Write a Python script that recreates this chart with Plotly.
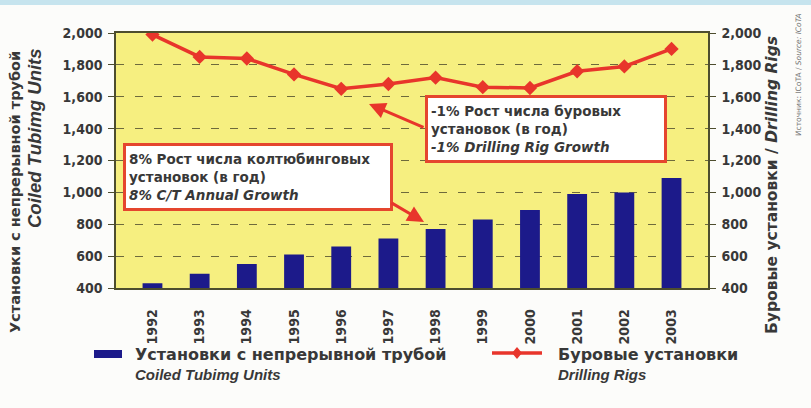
import plotly.graph_objects as go

# Data
years = ["1992", "1993", "1994", "1995", "1996", "1997",
         "1998", "1999", "2000", "2001", "2002", "2003"]
ct_units = [430, 490, 550, 610, 660, 710, 770, 830, 890, 990, 1000, 1090]
drilling_rigs = [1990, 1850, 1840, 1740, 1650, 1680, 1720, 1660, 1655, 1760, 1790, 1900]
tick_vals = [400, 600, 800, 1000, 1200, 1400, 1600, 1800, 2000]

W, H = 811, 408
L, R, T, B = 116, 103, 33, 120
PW, PH = W - L - R, H - T - B

def px(x):
    return (x - L) / PW

def py(y):
    return (H - B - y) / PH

NAVY = "#1c1a8a"
RED = "#e8352b"
BOX_RED = "#e5462e"
TXT = "#383838"
AXIS = "#4d4d2e"
FONT = "DejaVu Sans, Verdana, sans-serif"
NARROW = "DejaVu Sans Condensed, Liberation Sans Narrow, sans-serif"
LATIN = "Liberation Sans, Arial, sans-serif"

fig = go.Figure()
fig.add_trace(go.Bar(x=years, y=ct_units, marker_color=NAVY, marker_line_width=0,
                     width=0.42, yaxis="y", showlegend=False))
fig.add_trace(go.Scatter(x=years, y=drilling_rigs, yaxis="y2", mode="lines+markers",
                         line=dict(color=RED, width=3.5),
                         marker=dict(symbol="diamond", size=11, color=RED),
                         showlegend=False))

yax = dict(range=[400, 2000], tickvals=tick_vals, tickformat=",",
           ticks="outside", ticklen=6, tickcolor=AXIS, tickwidth=1,
           ticklabelstandoff=3,
           showline=True, linecolor=AXIS, linewidth=1.5,
           tickfont=dict(family=NARROW, size=14, color=TXT, weight="bold"))

fig.update_layout(
    width=W, height=H,
    margin=dict(l=L, r=R, t=T, b=B),
    paper_bgcolor="#fcfcfa",
    plot_bgcolor="#f6ef80",
    font=dict(family=FONT, color=TXT),
    xaxis=dict(showline=True, mirror=True, linecolor=AXIS, linewidth=1.5,
               tickangle=-90, ticks="", ticklabelstandoff=14,
               tickfont=dict(family=NARROW, size=14, color=TXT, weight="bold"),
               showgrid=False),
    yaxis=dict(**yax, showgrid=True, gridcolor="#6e6a3c", gridwidth=1,
               griddash="8px,11px", zeroline=False),
    yaxis2=dict(**yax, overlaying="y", side="right", showgrid=False, zeroline=False),
    bargap=0.58,
)

def text_at(x, y, text, size, family=FONT, angle=0, xanchor="left", color=TXT,
            weight="bold", style="normal"):
    return dict(xref="paper", yref="paper", x=px(x), y=py(y), textangle=angle,
                xanchor=xanchor, yanchor="middle", align="left", showarrow=False,
                text=text, font=dict(size=size, color=color, family=family,
                                     weight=weight, style=style))

anns = []
# Callout boxes
anns.append(dict(xref="paper", yref="paper", x=px(123), y=py(143),
                 xanchor="left", yanchor="top", align="left", showarrow=False,
                 width=258, height=56, bgcolor="white", bordercolor=BOX_RED,
                 borderwidth=3, borderpad=3,
                 text="<b>8% Рост числа колтюбинговых<br>установок (в год)<br>"
                      "<i>8% C/T Annual Growth</i></b>",
                 font=dict(size=13.5, color=TXT, family=FONT)))
anns.append(dict(xref="paper", yref="paper", x=px(425), y=py(95),
                 xanchor="left", yanchor="top", align="left", showarrow=False,
                 width=230, height=56, bgcolor="white", bordercolor=BOX_RED,
                 borderwidth=3, borderpad=3,
                 text="<b>-1% Рост числа буровых<br>установок (в год)<br>"
                      "<i>-1% Drilling Rig Growth</i></b>",
                 font=dict(size=13.5, color=TXT, family=FONT)))
# Arrows
anns.append(dict(xref="paper", yref="paper", x=px(424), y=py(222), axref="pixel", ayref="pixel",
                 ax=-34, ay=-20, showarrow=True, arrowhead=2, arrowsize=1.1,
                 arrowwidth=3, arrowcolor=RED, text=""))
anns.append(dict(xref="paper", yref="paper", x=px(369), y=py(104), axref="pixel", ayref="pixel",
                 ax=56, ay=24, showarrow=True, arrowhead=2, arrowsize=1.1,
                 arrowwidth=3, arrowcolor=RED, text=""))
# Axis titles
anns.append(text_at(15, 192, "Установки с непрерывной трубой", 14.5,
                    angle=-90, xanchor="center"))
anns.append(text_at(34, 138, "Coiled Tubimg Units", 18.5,
                    family=LATIN, angle=-90, xanchor="center", style="italic"))
anns.append(text_at(772, 185, "Буровые установки / <i>Drilling Rigs</i>", 15.5,
                    angle=-90, xanchor="center"))
anns.append(text_at(798, 75, "Источник: ICoTA / <i>Source: ICoTA</i>", 7.5,
                    angle=-90, xanchor="center", color="#777777", weight="normal"))
# Legend
anns.append(text_at(133, 354, "Установки с непрерывной трубой", 16))
anns.append(text_at(133, 374, "Coiled Tubimg Units", 15, family=LATIN, style="italic"))
anns.append(text_at(556, 354, "Буровые установки", 16))
anns.append(text_at(556, 374, "Drilling Rigs", 15, family=LATIN, style="italic"))
fig.update_layout(annotations=anns)

shapes = [
    dict(type="rect", xref="paper", yref="paper", x0=px(0), x1=px(W), y0=py(5), y1=py(0),
         fillcolor="#c6e4ee", line_width=0, layer="below"),
    dict(type="rect", xref="paper", yref="paper", x0=px(94), x1=px(122), y0=py(358), y1=py(350),
         fillcolor=NAVY, line_width=0),
    dict(type="line", xref="paper", yref="paper", x0=px(492), x1=px(542), y0=py(353), y1=py(353),
         line=dict(color=RED, width=3.5)),
    dict(type="path", xref="paper", yref="paper",
         path=f"M {px(517)},{py(347)} L {px(522)},{py(353)} L {px(517)},{py(359)} L {px(512)},{py(353)} Z",
         fillcolor=RED, line_width=0),
]
fig.update_layout(shapes=shapes)

fig.write_html("out.html")
